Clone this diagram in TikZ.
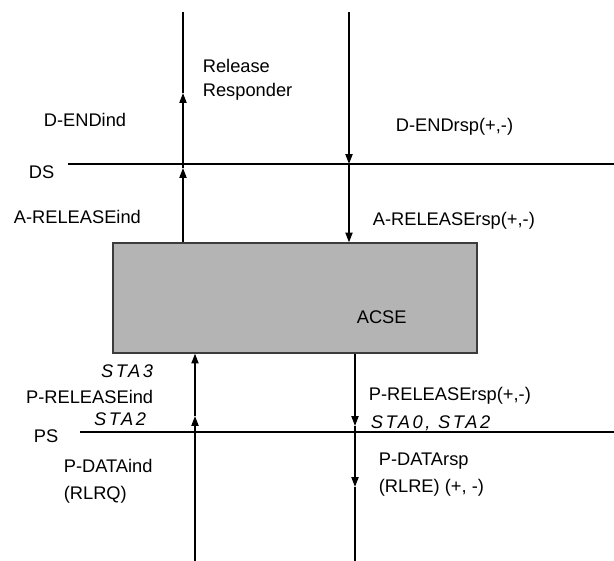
\documentclass[tikz,border=0pt]{standalone}
\usepackage{fontspec}
\setmainfont{Liberation Sans}
\newfontfamily\stafont{Liberation Sans}[LetterSpace=14]
\usetikzlibrary{arrows.meta, positioning}
\definecolor{boxgrey}{HTML}{B4B4B4}
\definecolor{edgegrey}{HTML}{3C3C3C}
\tikzset{
  every picture/.style={line width=1.2pt},
  lbl/.style={font=\fontsize{13}{17}\selectfont, inner sep=0pt, anchor=base west},
  lbltwo/.style={font=\fontsize{13}{19.5}\selectfont, inner sep=0pt, anchor=north west, align=left},
  sta/.style={lbl, font=\stafont\itshape\fontsize{13}{17}\selectfont},
  flow/.style={-{Triangle[length=7pt, width=5pt]}},
  entity/.style={draw=edgegrey, fill=boxgrey, line width=0.8pt, minimum width=9.1cm, minimum height=2.75cm, inner sep=0pt},
}

\begin{document}
\begin{tikzpicture}[x=0.025cm, y=-0.025cm]
  \useasboundingbox (0,0) rectangle (614,561);

  % service boundaries
  \coordinate (dsl) at (68,164);
  \coordinate (dsr) at (614,164);
  \coordinate (psl) at (80,432);
  \coordinate (psr) at (614,432);
  \draw (dsl) -- (dsr);
  \draw (psl) -- (psr);
  \node[lbl] (ds) at (28,178) {DS};
  \node[lbl] (ps) at (33,442) {PS};

  % ACSE
  \node[entity] (acse) at (295,298) {};
  \node[lbl] (acsename) at (356,323) {ACSE};

  % indication going up
  \coordinate (ltop) at (183,12);
  \coordinate (ltip1) at (183,93);
  \coordinate (ltip2) at (183,168);
  \draw[flow] (acse.north -| ltop) -- (ltip2);
  \draw[flow] (ltip2) -- (ltip1);
  \draw (ltip1) -- (ltop);

  % response coming down
  \coordinate (rtop) at (349,12);
  \coordinate (rtip1) at (349,164);
  \draw[flow] (rtop) -- (rtip1);
  \draw[flow] (rtip1) -- (acse.north -| rtop);

  % from the presentation service
  \coordinate (lbot) at (195,561);
  \coordinate (ltip3) at (195,416);
  \draw[flow] (lbot) -- (ltip3);
  \draw[flow] (ltip3) -- (acse.south -| lbot);

  % to the presentation service
  \coordinate (rbot) at (355,561);
  \coordinate (rtip2) at (355,426);
  \coordinate (rtip3) at (355,487);
  \draw[flow] (acse.south -| rbot) -- (rtip2);
  \draw[flow] (rtip2) -- (rtip3);
  \draw (rtip3) -- (rbot);

  % labels above
  \node[lbltwo, font=\fontsize{13}{17}\selectfont] (resp) at (202,58) {Release\\Responder};
  \node[lbl] (dendind) at (43,126) {D-ENDind};
  \node[lbl] (dendrsp) at (395,131) {D-ENDrsp(+,-)};
  \node[lbl] (arelind) at (13,223) {A-RELEASEind};
  \node[lbl] (arelrsp) at (372,225) {A-RELEASErsp(+,-)};

  % labels below
  \node[sta, anchor=base east] (sta3) at (154,377) {STA3};
  \node[lbl, anchor=base east] (prelind) at (154,403) {P-RELEASEind};
  \node[sta, anchor=base east] (sta2) at (147,425) {STA2};
  \node[lbltwo] (pdataind) at (63,458) {P-DATAind\\(RLRQ)};
  \node[lbl] (prelrsp) at (368,400) {P-RELEASErsp(+,-)};
  \node[sta] (sta02) at (370,428) {STA0, STA2};
  \node[lbltwo] (pdatarsp) at (378,452) {P-DATArsp\\(RLRE) (+, -)};
\end{tikzpicture}
\end{document}
